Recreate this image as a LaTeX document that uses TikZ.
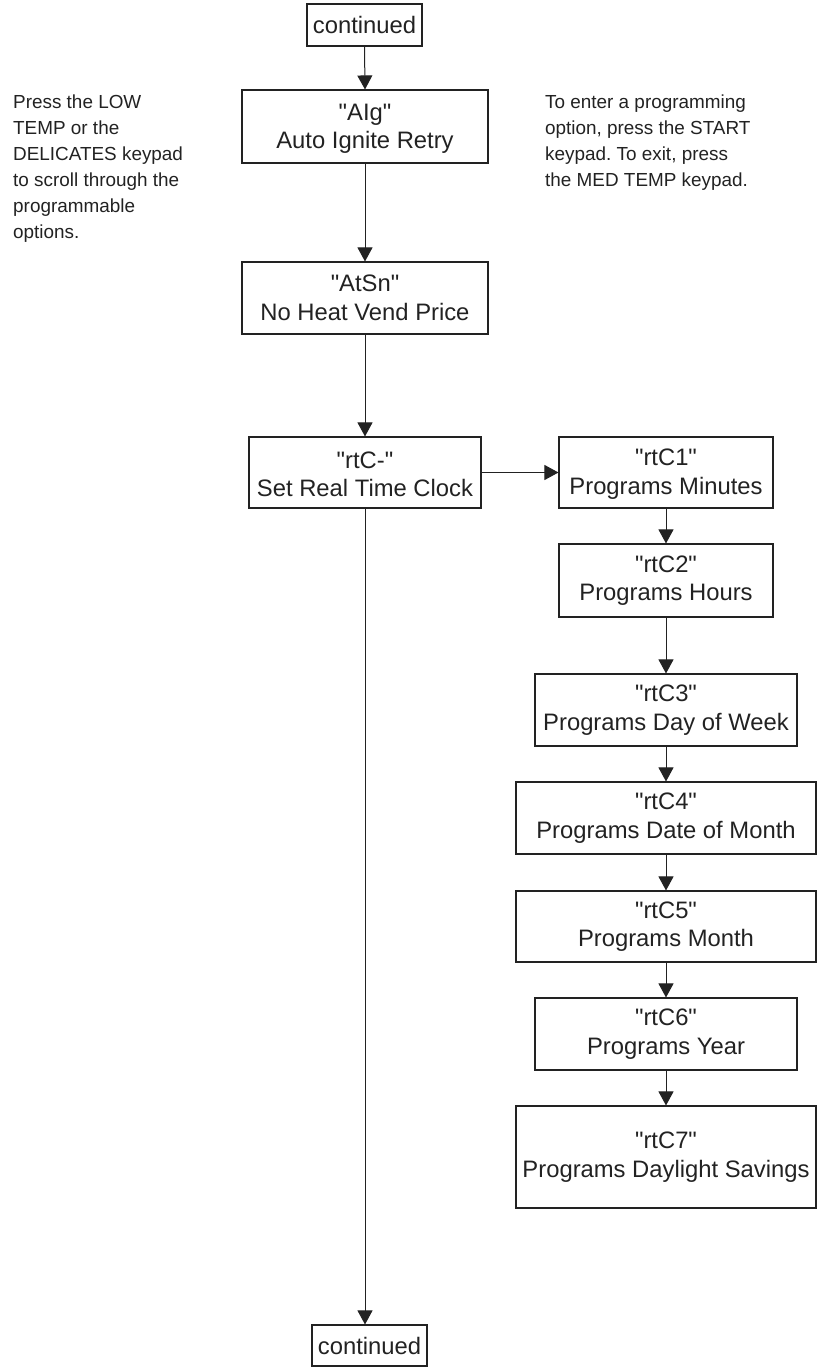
\documentclass[tikz,border=0pt]{standalone}
\usepackage{fontspec}
\setmainfont{Liberation Sans}[Ligatures=TeXOff]
\usetikzlibrary{arrows.meta}
\definecolor{ink}{HTML}{222222}
\frenchspacing
\begin{document}
\begin{tikzpicture}[x=1pt,y=-1pt,
  box/.style={draw=ink, line width=1.1pt, text=ink, align=center, inner sep=0pt,
    font=\fontsize{23.8}{28.5}\selectfont},
  conn/.style={draw=ink, line width=1pt, -{Triangle[length=14pt,width=15pt]}},
  note/.style={text=ink, align=left, inner sep=0pt, anchor=north west,
    font=\fontsize{18.9}{26}\selectfont}]
\useasboundingbox (0,0) rectangle (817,1367);

\node[box, minimum width=115pt, minimum height=42pt] (top) at (364.5,25) {continued};
\node[box, minimum width=246pt, minimum height=73pt] (alg) at (365,126.5) {\rule{0pt}{21pt}"AIg"\\Auto Ignite Retry};
\node[box, minimum width=246pt, minimum height=72pt] (atsn) at (365,298) {"AtSn"\\No Heat Vend Price};
\node[box, minimum width=232pt, minimum height=71pt] (rtc) at (365,472.5) {\rule{0pt}{20pt}"rtC-"\\Set Real Time Clock};
\node[box, minimum width=214pt, minimum height=71pt] (rtc1) at (666,472.5) {\rule{0pt}{20pt}"rtC1"\\Programs Minutes};
\node[box, minimum width=214pt, minimum height=73pt] (rtc2) at (666,580.5) {"rtC2"\\Programs Hours};
\node[box, minimum width=262pt, minimum height=72pt] (rtc3) at (666,710) {"rtC3"\\Programs Day of Week};
\node[box, minimum width=300pt, minimum height=72pt] (rtc4) at (666,818) {"rtC4"\\Programs Date of Month};
\node[box, minimum width=300pt, minimum height=71pt] (rtc5) at (666,926.5) {"rtC5"\\Programs Month};
\node[box, minimum width=262pt, minimum height=72pt] (rtc6) at (666,1034) {"rtC6"\\Programs Year};
\node[box, minimum width=300pt, minimum height=102pt] (rtc7) at (666,1157) {"rtC7"\\Programs Daylight Savings};
\node[box, minimum width=115pt, minimum height=41pt] (bot) at (369.5,1345.5) {continued};

\node[note] (left) at (13,95) {Press the LOW\\TEMP or the\\DELICATES keypad\\to scroll through the\\programmable\\options.};
\node[note] (right) at (545,95) {To enter a programming\\option, press the START\\keypad. To exit, press\\the MED TEMP keypad.};

\draw[conn] (top.south) -- (alg.north);
\draw[conn] (alg.south) -- (atsn.north);
\draw[conn] (atsn.south) -- (rtc.north);
\draw[conn] (rtc.east) -- (rtc1.west);
\draw[conn] (rtc1.south) -- (rtc2.north);
\draw[conn] (rtc2.south) -- (rtc3.north);
\draw[conn] (rtc3.south) -- (rtc4.north);
\draw[conn] (rtc4.south) -- (rtc5.north);
\draw[conn] (rtc5.south) -- (rtc6.north);
\draw[conn] (rtc6.south) -- (rtc7.north);
\draw[conn] (rtc.south) -- (rtc.south |- bot.north);
\end{tikzpicture}
\end{document}
